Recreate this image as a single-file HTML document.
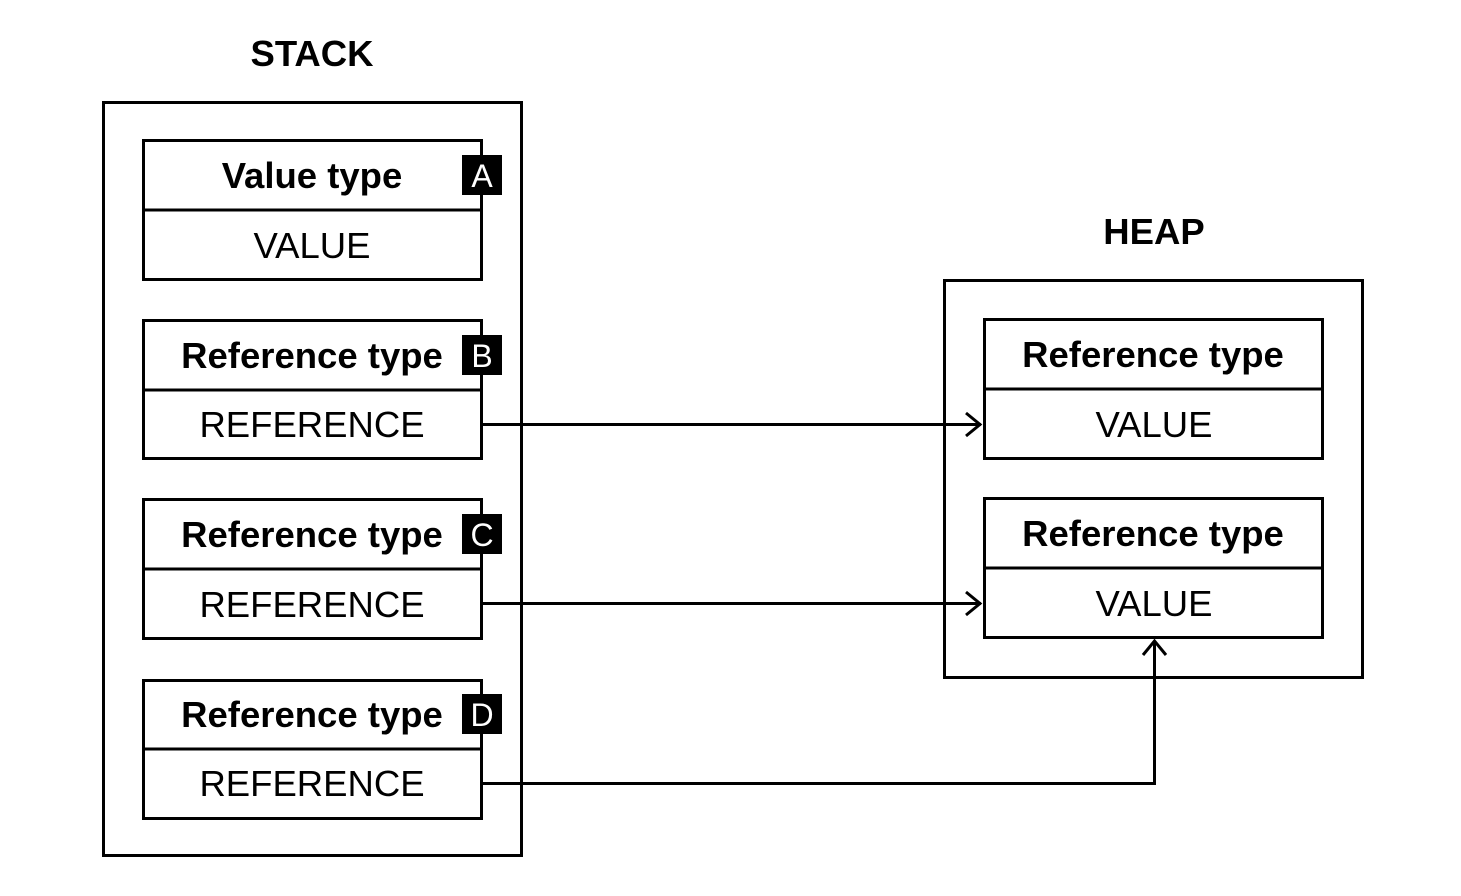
<!DOCTYPE html>
<html><head><meta charset="utf-8"><style>
html,body{margin:0;padding:0;background:#fff;}
svg{display:block;}
text{font-family:"Liberation Sans",Arial,sans-serif;fill:#000;}
.b{font-weight:bold;font-size:36.5px;}
.n{font-size:36.5px;}
.t{font-weight:bold;font-size:36.5px;}
.w{fill:#fff;font-size:32px;}
</style></head><body>
<svg width="1461" height="896" viewBox="0 0 1461 896" xmlns="http://www.w3.org/2000/svg">
<g fill="none" stroke="#000" stroke-width="3">
<rect x="103.5" y="102.5" width="418" height="753"/>
<rect x="944.5" y="280.5" width="418" height="397"/>
<rect x="143.5" y="140.5" width="338" height="139"/><line x1="143" y1="210" x2="482" y2="210"/>
<rect x="143.5" y="320.5" width="338" height="138"/><line x1="143" y1="390" x2="482" y2="390"/>
<rect x="143.5" y="499.5" width="338" height="139"/><line x1="143" y1="569" x2="482" y2="569"/>
<rect x="143.5" y="680.5" width="338" height="138"/><line x1="143" y1="749" x2="482" y2="749"/>
<rect x="984.5" y="319.5" width="338" height="139"/><line x1="984" y1="389" x2="1323" y2="389"/>
<rect x="984.5" y="498.5" width="338" height="139"/><line x1="984" y1="568" x2="1323" y2="568"/>
<path d="M482 424.5H981M966 413l14 11.5-14 11.5"/>
<path d="M482 603.5H981M966 592l14 11.5-14 11.5"/>
<path d="M482 783.5H1154.5V641M1143 655l11.5-14 11.5 14"/>
</g>
<g fill="#000">
<rect x="462" y="155" width="40" height="40"/>
<rect x="462" y="335" width="40" height="40"/>
<rect x="462" y="514" width="40" height="40"/>
<rect x="462" y="694" width="40" height="40"/>
</g>
<g text-anchor="middle">
<text class="t" x="312" y="66">STACK</text>
<text class="t" x="1154" y="244">HEAP</text>
<text class="b" x="312" y="188">Value type</text>
<text class="n" x="312" y="258">VALUE</text>
<text class="b" x="312" y="368">Reference type</text>
<text class="n" x="312" y="437">REFERENCE</text>
<text class="b" x="312" y="547">Reference type</text>
<text class="n" x="312" y="617">REFERENCE</text>
<text class="b" x="312" y="727">Reference type</text>
<text class="n" x="312" y="796">REFERENCE</text>
<text class="b" x="1153" y="367">Reference type</text>
<text class="n" x="1154" y="437">VALUE</text>
<text class="b" x="1153" y="546">Reference type</text>
<text class="n" x="1154" y="616">VALUE</text>
<text class="w" x="482" y="187">A</text>
<text class="w" x="482" y="367">B</text>
<text class="w" x="482" y="546">C</text>
<text class="w" x="482" y="726">D</text>
</g>
</svg>
</body></html>
